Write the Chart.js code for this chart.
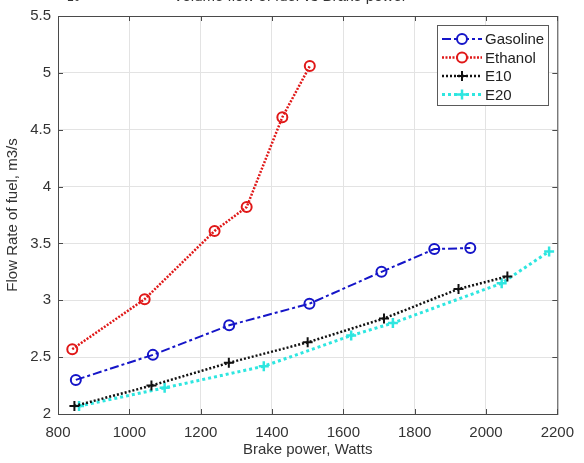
<!DOCTYPE html>
<html>
<head>
<meta charset="utf-8">
<script src="https://cdn.jsdelivr.net/npm/chart.js@4.4.1/dist/chart.umd.min.js"></script>
<style>
  html, body { margin: 0; padding: 0; background: #fff; }
  #wrap { width: 584px; height: 463px; position: relative; }
</style>
</head>
<body>
<div id="wrap"><canvas id="c"></canvas></div>
<script>
// values (brake power in W, flow rate x10^-?)
var gasolineX = [850, 1066, 1280, 1505, 1707, 1855, 1956];
var gasolineY = [2.30, 2.52, 2.78, 2.97, 3.25, 3.45, 3.46];
var ethanolX = [840, 1043, 1239, 1329, 1429, 1506];
var ethanolY = [2.57, 3.01, 3.61, 3.82, 4.61, 5.06];
var e10X = [846, 1062, 1279, 1500, 1714, 1923, 2060];
var e10Y = [2.07, 2.25, 2.45, 2.63, 2.84, 3.10, 3.21];
var e20X = [859, 1099, 1377, 1622, 1739, 2044, 2177];
var e20Y = [2.07, 2.23, 2.42, 2.69, 2.80, 3.15, 3.43];
var seriesNames = ['Gasoline', 'Ethanol', 'E10', 'E20'];

var FONT = '"Liberation Sans", Arial, sans-serif';

function pts(xs, ys) {
    return xs.map(function(x, i) { return {x: x, y: ys[i]}; });
}

// MATLAB-like frame, inward ticks, title and legend
var matlabBits = {
    id: 'matlabBits',
    afterDatasetsDraw: function(chart) {
        var ctx = chart.ctx, a = chart.chartArea;
        var xs = chart.scales.x, ys = chart.scales.y;
        ctx.save();
        ctx.strokeStyle = '#4a4a4a';
        ctx.lineWidth = 1;
        ctx.strokeRect(a.left + 0.5, a.top + 0.5, a.right - a.left, a.bottom - a.top);
        ctx.beginPath();
        for (var v = 800; v <= 2200; v += 200) {
            var px = Math.round(xs.getPixelForValue(v)) + 0.5;
            ctx.moveTo(px, a.bottom); ctx.lineTo(px, a.bottom - 5);
            ctx.moveTo(px, a.top); ctx.lineTo(px, a.top + 5);
        }
        for (var w = 2; w <= 5.5; w += 0.5) {
            var py = Math.round(ys.getPixelForValue(w)) + 0.5;
            ctx.moveTo(a.left, py); ctx.lineTo(a.left + 5, py);
            ctx.moveTo(a.right, py); ctx.lineTo(a.right - 5, py);
        }
        ctx.stroke();

        // title, mostly cut off at top of the picture
        ctx.fillStyle = '#333';
        ctx.font = '15px ' + FONT;
        ctx.textAlign = 'center';
        ctx.textBaseline = 'alphabetic';
        ctx.fillText('Volume flow of fuel vs Brake power', 290, 1);
        ctx.textAlign = 'left';
        ctx.font = '12px ' + FONT;
        ctx.fillText('\u00d710', 60, 1);

        // legend
        var lx = 437, ly = 25, lw = 111, lh = 80;
        ctx.fillStyle = '#fff';
        ctx.fillRect(lx, ly, lw, lh);
        ctx.strokeStyle = '#5a5a5a';
        ctx.lineWidth = 1;
        ctx.strokeRect(lx + 0.5, ly + 0.5, lw, lh);
        chart.data.datasets.forEach(function(ds, i) {
            var y = 39 + i * 18.5;
            ctx.save();
            ctx.strokeStyle = ds.borderColor;
            ctx.lineWidth = ds.borderWidth;
            ctx.setLineDash(ds.borderDash);
            ctx.beginPath();
            ctx.moveTo(lx + 5, y); ctx.lineTo(lx + 45, y);
            ctx.stroke();
            ctx.setLineDash([]);
            ctx.lineWidth = ds.pointBorderWidth;
            ctx.beginPath();
            if (ds.pointStyle === 'circle') {
                ctx.fillStyle = '#fff';
                ctx.arc(lx + 25, y, 5, 0, Math.PI * 2);
                ctx.fill();
            } else {
                ctx.moveTo(lx + 20, y); ctx.lineTo(lx + 30, y);
                ctx.moveTo(lx + 25, y - 5); ctx.lineTo(lx + 25, y + 5);
            }
            ctx.stroke();
            ctx.restore();
            ctx.fillStyle = '#222';
            ctx.font = '15px ' + FONT;
            ctx.textBaseline = 'middle';
            ctx.fillText(ds.label, lx + 48, y + 1);
        });
        ctx.restore();
    }
};

new Chart(document.getElementById('c'), {
    type: 'line',
    data: {
        datasets: [
            {
                label: seriesNames[0], data: pts(gasolineX, gasolineY),
                borderColor: '#1515c8', borderWidth: 2, borderDash: [9, 3, 3, 3],
                pointStyle: 'circle', pointRadius: 5, pointBorderWidth: 2,
                pointBackgroundColor: 'rgba(255,255,255,0)', pointBorderColor: '#1515c8'
            },
            {
                label: seriesNames[1], data: pts(ethanolX, ethanolY),
                borderColor: '#e01818', borderWidth: 2.5, borderDash: [2, 1.5],
                pointStyle: 'circle', pointRadius: 5, pointBorderWidth: 2,
                pointBackgroundColor: 'rgba(255,255,255,0)', pointBorderColor: '#e01818'
            },
            {
                label: seriesNames[2], data: pts(e10X, e10Y),
                borderColor: '#111', borderWidth: 2.5, borderDash: [2, 2],
                pointStyle: 'cross', pointRadius: 5, pointBorderWidth: 2,
                pointBorderColor: '#111'
            },
            {
                label: seriesNames[3], data: pts(e20X, e20Y),
                borderColor: '#2ee6e0', borderWidth: 3, borderDash: [3, 3],
                pointStyle: 'cross', pointRadius: 5, pointBorderWidth: 2.5,
                pointBorderColor: '#2ee6e0'
            }
        ]
    },
    options: {
        responsive: true,
        maintainAspectRatio: false,
        animation: false,
        layout: { padding: { top: 14, right: 20, left: 0, bottom: 0 } },
        plugins: { legend: { display: false }, tooltip: { enabled: false } },
        elements: { line: { tension: 0, fill: false } },
        scales: {
            x: {
                type: 'linear', min: 800, max: 2200,
                ticks: { stepSize: 200, color: '#333', font: { family: FONT, size: 15 }, padding: 10,
                         callback: function(v) { return String(v); } },
                grid: { color: '#e3e3e3', drawTicks: false },
                border: { display: false },
                title: { display: true, text: 'Brake power, Watts', color: '#333',
                         font: { family: FONT, size: 15 }, padding: { top: 4 } },
                afterFit: function(s) { s.height = 49; }
            },
            y: {
                type: 'linear', min: 2, max: 5.5,
                ticks: { stepSize: 0.5, color: '#333', font: { family: FONT, size: 15 }, padding: 7,
                         callback: function(v) { return String(v); } },
                grid: { color: '#e3e3e3', drawTicks: false },
                border: { display: false },
                title: { display: true, text: 'Flow Rate of fuel, m3/s', color: '#333',
                         font: { family: FONT, size: 15 }, padding: { bottom: 4 } },
                afterFit: function(s) { s.width = 58; }
            }
        }
    },
    plugins: [matlabBits]
});
</script>
</body>
</html>
